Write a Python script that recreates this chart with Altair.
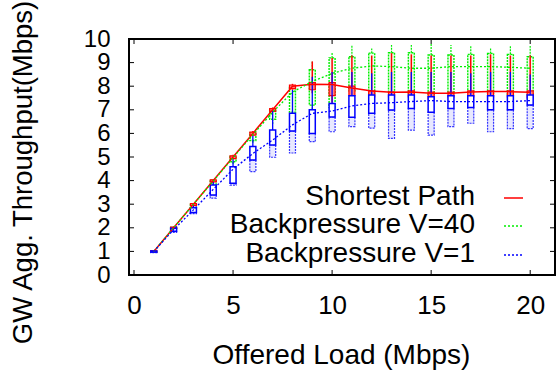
import altair as alt
import pandas as pd

FONT = "Liberation Sans"

# ---------------- data ----------------
x_vals = list(range(1, 21))
series_names = ["Shortest Path", "Backpressure V=40", "Backpressure V=1"]
series_colors = ["#ff0000", "#00ee00", "#0000ff"]

# Shortest Path
sp_mean = [1.0, 2.0, 3.0, 4.0, 5.0, 6.0, 7.0, 8.0, 8.08, 8.07, 7.92, 7.8, 7.74, 7.75, 7.7, 7.7, 7.75, 7.78, 7.77, 7.74]
sp_blo = [0.97, 1.97, 2.95, 3.95, 4.93, 5.93, 6.93, 7.9, 7.85, 7.6, 7.6, 7.55, 7.55, 7.55, 7.45, 7.55, 7.55, 7.55, 7.55, 7.5]
sp_bhi = [1.03, 2.03, 3.03, 4.03, 5.05, 6.05, 7.05, 8.05, 8.15, 8.15, 8.0, 7.8, 7.75, 7.8, 7.75, 7.75, 7.8, 7.8, 7.8, 7.8]
sp_wlo = [0.95, 1.95, 2.9, 3.9, 4.9, 5.9, 6.9, 7.85, 7.7, 7.3, 7.4, 7.4, 7.3, 7.3, 7.0, 7.3, 7.4, 7.4, 7.3, 7.1]
sp_whi = [1.05, 2.05, 3.05, 4.05, 5.1, 6.1, 7.1, 8.1, 9.05, 9.2, 9.3, 9.3, 9.4, 9.35, 9.3, 9.3, 9.3, 9.35, 9.3, 9.3]

# Backpressure V=40
g_mean = [1.0, 2.0, 3.0, 3.98, 4.97, 5.95, 6.9, 7.75, 8.2, 8.54, 8.76, 8.86, 8.83, 8.76, 8.76, 8.83, 8.83, 8.83, 8.8, 8.76]
g_blo = [0.97, 1.93, 2.85, 3.85, 4.8, 5.7, 6.6, 6.9, 7.2, 7.1, 7.8, 7.7, 7.75, 7.7, 7.65, 7.7, 7.7, 7.7, 7.6, 7.65]
g_bhi = [1.02, 2.02, 3.02, 4.02, 5.02, 6.02, 7.0, 7.95, 8.7, 9.2, 9.25, 9.4, 9.42, 9.42, 9.32, 9.32, 9.35, 9.39, 9.35, 9.25]
g_wlo = [0.95, 1.9, 2.8, 3.8, 4.7, 5.6, 6.4, 6.6, 6.9, 6.9, 7.2, 7.3, 7.3, 7.2, 7.2, 7.2, 7.3, 7.3, 7.2, 7.2]
g_whi = [1.03, 2.05, 3.05, 4.05, 5.05, 6.05, 7.05, 8.0, 9.05, 9.45, 9.75, 9.6, 9.75, 9.75, 9.82, 9.75, 9.7, 9.6, 9.7, 9.7]

# Backpressure V=1
b_mean = [1.0, 1.92, 2.76, 3.63, 4.48, 5.15, 5.72, 6.36, 6.85, 6.95, 7.16, 7.27, 7.3, 7.35, 7.39, 7.35, 7.35, 7.35, 7.35, 7.39]
b_blo = [0.97, 1.85, 2.65, 3.39, 3.89, 4.87, 5.51, 6.1, 6.0, 6.7, 6.68, 6.85, 6.99, 7.06, 6.9, 7.06, 7.1, 7.0, 7.0, 7.2]
b_bhi = [1.02, 1.98, 2.85, 3.81, 4.59, 5.44, 6.14, 6.85, 7.0, 7.27, 7.6, 7.63, 7.63, 7.63, 7.55, 7.6, 7.6, 7.6, 7.6, 7.63]
b_wlo = [0.95, 1.8, 2.6, 3.26, 3.81, 4.38, 4.99, 5.17, 5.65, 6.07, 6.29, 6.22, 5.79, 6.14, 5.93, 6.29, 6.43, 6.07, 6.2, 6.2]
b_whi = [1.03, 2.0, 2.95, 3.95, 4.9, 5.9, 6.95, 7.84, 8.4, 8.6, 8.6, 8.55, 8.6, 8.6, 8.6, 8.6, 8.55, 8.6, 8.6, 8.5]

x_ticks = [0, 5, 10, 15, 20]
y_ticks = list(range(0, 11))

W, H = 426, 236
xs = alt.Scale(domain=[0, 21], nice=False, zero=False)
ys = alt.Scale(domain=[0, 10], nice=False, zero=False)


def frame(mean, blo, bhi, wlo, whi):
    return pd.DataFrame({"x": x_vals, "mean": mean, "blo": blo, "bhi": bhi, "wlo": wlo, "whi": whi})


df_sp = frame(sp_mean, sp_blo, sp_bhi, sp_wlo, sp_whi)
df_g = frame(g_mean, g_blo, g_bhi, g_wlo, g_whi)
df_b = frame(b_mean, b_blo, b_bhi, b_wlo, b_whi)

X = alt.X("x:Q", scale=xs, axis=alt.Axis(values=x_ticks, title="Offered Load (Mbps)",
                                         labelOverlap=False, labelFlush=False))
red, green, blue = series_colors


def Y(f):
    return alt.Y(f + ":Q", scale=ys, axis=alt.Axis(values=y_ticks, title="GW Agg. Throughput(Mbps)",
                                                   labelOverlap=False, labelFlush=False, tickCount=11))


layers = []

# green candlesticks
layers.append(alt.Chart(df_g).mark_rule(color=green, strokeWidth=1.2, strokeDash=[2, 1]).encode(x=X, y=Y("bhi"), y2="whi"))
layers.append(alt.Chart(df_g).mark_rule(color=green, strokeWidth=1.2, strokeDash=[2, 1]).encode(x=X, y=Y("wlo"), y2="blo"))
layers.append(alt.Chart(df_g).mark_bar(size=6, fill="#d8ffd8", fillOpacity=0.4, stroke=green, strokeWidth=1.4,
                                       strokeDash=[2, 1]).encode(x=X, y=Y("blo"), y2="bhi"))

# red candlesticks
layers.append(alt.Chart(df_sp).mark_rule(color=red, strokeWidth=1.5).encode(x=X, y=Y("bhi"), y2="whi"))
layers.append(alt.Chart(df_sp).mark_rule(color=red, strokeWidth=1.5).encode(x=X, y=Y("wlo"), y2="blo"))
layers.append(alt.Chart(df_sp).mark_bar(size=6, fill="#ff8080", stroke=red, strokeWidth=1.2).encode(x=X, y=Y("blo"), y2="bhi"))

# blue candlesticks
layers.append(alt.Chart(df_b).mark_rule(color=blue, strokeWidth=1.3).encode(x=X, y=Y("bhi"), y2="whi"))
layers.append(alt.Chart(df_b).mark_bar(size=6, fill="#e8e8ff", stroke="#3333ff", strokeWidth=1.2,
                                       strokeDash=[2, 1]).encode(x=X, y=Y("wlo"), y2="blo"))
layers.append(alt.Chart(df_b).mark_bar(size=6, fill="white", stroke=blue, strokeWidth=1.5).encode(x=X, y=Y("blo"), y2="bhi"))

# mean lines
layers.append(alt.Chart(df_sp).mark_line(color=red, strokeWidth=1.5).encode(x=X, y=Y("mean")))
layers.append(alt.Chart(df_g).mark_line(color=green, strokeWidth=1.3, strokeDash=[2, 2]).encode(x=X, y=Y("mean")))
layers.append(alt.Chart(df_b).mark_line(color=blue, strokeWidth=1.3, strokeDash=[2, 2]).encode(x=X, y=Y("mean")))

# inward ticks (gnuplot style)
df_yt = pd.DataFrame({"v": y_ticks})
df_xt = pd.DataFrame({"v": x_ticks})
layers.append(alt.Chart(df_yt).mark_rule(color="black", strokeWidth=1).encode(y=alt.Y("v:Q", scale=ys), x=alt.value(0), x2=alt.value(5)))
layers.append(alt.Chart(df_yt).mark_rule(color="black", strokeWidth=1).encode(y=alt.Y("v:Q", scale=ys), x=alt.value(W), x2=alt.value(W - 5)))
layers.append(alt.Chart(df_xt).mark_rule(color="black", strokeWidth=1).encode(x=alt.X("v:Q", scale=xs), y=alt.value(H), y2=alt.value(H - 5)))
layers.append(alt.Chart(df_xt).mark_rule(color="black", strokeWidth=1).encode(x=alt.X("v:Q", scale=xs), y=alt.value(0), y2=alt.value(5)))

# legend (inside plot, bottom right)
leg_y = [158, 186, 215]
leg_dash = [[1, 0], [2, 2], [2, 2]]
for name, col, yy, dash in zip(series_names, series_colors, leg_y, leg_dash):
    dfl = pd.DataFrame({"label": [name]})
    layers.append(alt.Chart(dfl).mark_text(align="right", baseline="middle", fontSize=28, font=FONT,
                                           color="black").encode(text="label:N", x=alt.value(346), y=alt.value(yy)))
    layers.append(alt.Chart(dfl).mark_rule(color=col, strokeWidth=1.4, strokeDash=dash).encode(
        x=alt.value(375), x2=alt.value(394), y=alt.value(yy + 1)))

chart = alt.layer(*layers).properties(
    width=W, height=H,
    autosize=alt.AutoSizeParams(type="none"),
    padding={"left": 129, "top": 39, "right": 3, "bottom": 97},
).configure_view(stroke="black", strokeWidth=2).configure_axis(
    domain=False, ticks=False, grid=False,
    labelFont=FONT, titleFont=FONT, labelColor="black", titleColor="black",
    titleFontWeight="normal",
).configure_axisX(
    labelFontSize=26,
    labelPadding=38, labelBaseline="alphabetic", titleBaseline="alphabetic",
    titleX=212, titleY=88, titleAlign="center", titleFontSize=28,
).configure_axisY(
    labelFontSize=24,
    labelPadding=19, titleAngle=-90, titleBaseline="alphabetic", titleAlign="center",
    titleX=-98, titleY=133, titleFontSize=27.5,
)

chart.save("out.html", embed_options={"renderer": "svg", "actions": False})
